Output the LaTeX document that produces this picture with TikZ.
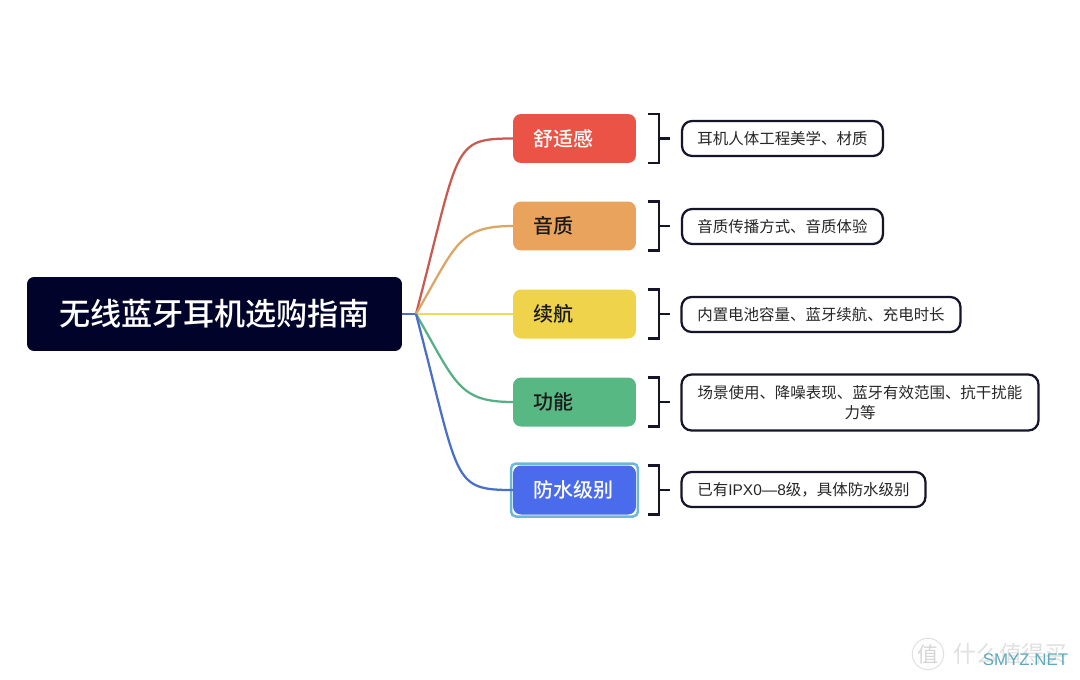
\documentclass[tikz,border=0pt]{standalone}
\usepackage{fontspec}
\setmainfont[BoldFont={Noto Sans CJK SC Medium}]{Noto Sans CJK SC}
\newfontfamily\latinwm{Liberation Sans}
\usepackage{tikz}
\usetikzlibrary{fit,calc}

\definecolor{rootcol}{HTML}{02032B}
\definecolor{redcol}{HTML}{EA5345}
\definecolor{orangecol}{HTML}{E9A35C}
\definecolor{yellowcol}{HTML}{EFD44B}
\definecolor{greencol}{HTML}{57B883}
\definecolor{bluecol}{HTML}{4A6CEC}
\definecolor{ringcol}{HTML}{6FB8D4}
\definecolor{inkcol}{HTML}{14142B}
\definecolor{netcol}{HTML}{5FA9BC}
\definecolor{redlink}{HTML}{C85A50}
\definecolor{orangelink}{HTML}{DBA663}
\definecolor{yellowlink}{HTML}{EDD95A}
\definecolor{greenlink}{HTML}{55B085}
\definecolor{bluelink}{HTML}{4A6FC8}

\begin{document}
\begin{tikzpicture}[
    x=0.02cm, y=-0.02cm,
    rootbox/.style={fill=rootcol, text=white, rounded corners=0.14cm, inner sep=0, outer sep=0, font=\fontsize{17.7}{21}\selectfont\bfseries, minimum width=7.5cm, minimum height=1.48cm},
    branch/.style={rounded corners=0.16cm, inner xsep=0.4cm, inner ysep=0, outer sep=0, text width=1.66cm, align=left, font=\fontsize{11.4}{14}\selectfont\bfseries, minimum height=0.98cm},
    leaf/.style={draw=inkcol, line width=0.045cm, fill=white, rounded corners=0.2cm, inner sep=0, outer sep=0, align=center, font=\fontsize{8.8}{11.2}\selectfont, text=black!85, minimum height=0.7cm},
    link/.style={line width=0.045cm},
    brk/.style={draw=inkcol, line width=0.045cm},
    marktxt/.style={text=black!12, inner sep=0}
]
\useasboundingbox (0,0) rectangle (1080,680);

% Root
\node[rootbox] (root) at (214.5,314) {无线蓝牙耳机选购指南};
\coordinate (hub) at (416,314);

% Branches
\node[branch, fill=redcol, text=white] (comfort) at (574.5,138.5) {舒适感};
\node[branch, fill=orangecol, text=black!90] (sound) at (574.5,226) {音质};
\node[branch, fill=yellowcol, text=black!90] (battery) at (574.5,314) {续航};
\node[branch, fill=greencol, text=black!90] (feature) at (574.5,402) {功能};
\node[branch, fill=bluecol, text=white] (water) at (574.5,490) {防水级别};
\node[draw=ringcol, line width=0.05cm, rounded corners=0.1cm, inner sep=0.04cm, fit=(water)] (waterring) {};

% Notes
\node[leaf, minimum width=4.02cm] (comfortnote) at (782.5,138.5) {耳机人体工程美学、材质};
\node[leaf, minimum width=4.02cm] (soundnote) at (782.5,226.5) {音质传播方式、音质体验};
\node[leaf, minimum width=5.58cm] (batterynote) at (821,314.5) {内置电池容量、蓝牙续航、充电时长};
\node[leaf, minimum width=7.14cm, minimum height=1.12cm] (featurenote) at (860,402.5) {场景使用、降噪表现、蓝牙有效范围、抗干扰能\\力等};
\node[leaf, minimum width=4.88cm] (waternote) at (803.5,489.5) {已有{\latinwm IPX0—8}级，具体防水级别};

% Curves
\draw[link, draw=bluelink] (root.east) -- (hub);
\draw[link, draw=redlink] (hub) .. controls +(44,-168) and +(-62,0) .. (comfort.west);
\draw[link, draw=orangelink] (hub) .. controls +(40,-69) and +(-55,0) .. (sound.west);
\draw[link, draw=yellowlink] (hub) -- (battery.west);
\draw[link, draw=greenlink] (hub) .. controls +(40,69) and +(-55,0) .. (feature.west);
\draw[link, draw=bluelink] (hub) .. controls +(44,168) and +(-62,0) .. (water.west);

% Brackets
\foreach \b/\l in {comfort/comfortnote, sound/soundnote, battery/batterynote, feature/featurenote, water/waternote} {
    \draw[brk] ($(\b.north east)+(12,0)$) -- ++(11,0) -- ($(\b.south east)+(23,0)$) -- ++(-11,0);
    \draw[brk, shorten >=0.24cm] ($(\b.east)+(23,0)$) -- (\b.east -| \l.west);
}

% Watermark
\node[draw=black!12, circle, line width=0.02cm, inner sep=0.02cm, font=\fontsize{12}{12}\selectfont, text=black!16] (markzhi) at (928,654) {值};
\node[marktxt, font=\fontsize{13}{13}\selectfont, anchor=west] (marktext) at (953,654) {什么值得买};
\node[inner sep=0, text=netcol, font=\latinwm\fontsize{9.6}{10}\selectfont] (marknet) at (1025.5,660) {SMYZ.NET};
\end{tikzpicture}
\end{document}
